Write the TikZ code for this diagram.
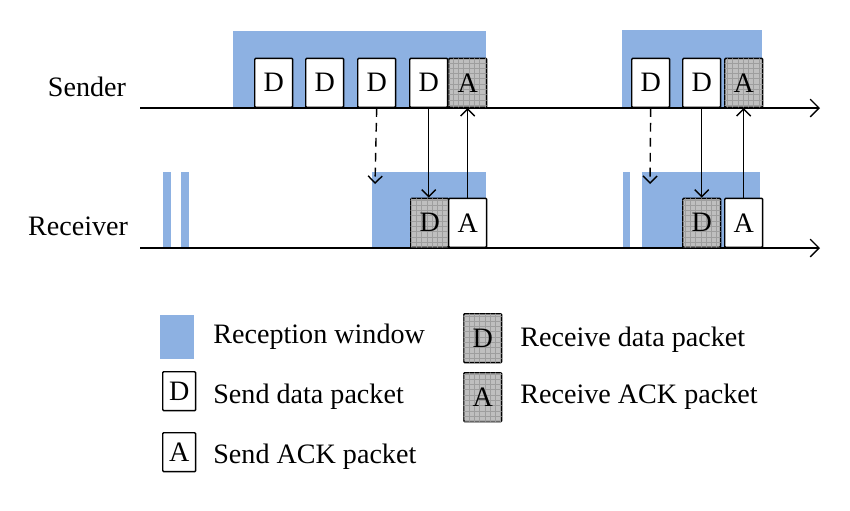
\documentclass[tikz,border=0pt]{standalone}
\usepackage{fontspec}
\setmainfont{Liberation Serif}
\usetikzlibrary{arrows.meta,patterns,positioning}
\definecolor{winblue}{RGB}{141,177,226}

\tikzset{
  pkt/.style={draw, thick, fill=white, minimum width=0.76cm, minimum height=0.98cm, inner sep=0pt, anchor=south west, rounded corners=0.6pt},
  rpkt/.style={pkt, fill=black!25, postaction={pattern=grid, pattern color=black!38}},
  lpkt/.style={pkt, minimum width=0.66cm, minimum height=0.78cm, anchor=north west},
  win/.style={fill=winblue, draw=none},
  tl/.style={thick, -{Straight Barb[length=5pt,width=10pt]}},
  msg/.style={thick, -{Straight Barb[length=4pt,width=8pt]}},
  lbl/.style={anchor=west, inner sep=0pt},
}

\begin{document}
\begin{tikzpicture}[x=0.02cm, y=-0.02cm, font=\fontsize{16}{19}\selectfont]
    \useasboundingbox (0,0) rectangle (850,511);

    % Reception windows
    \fill[win] (233,31) rectangle (486,108);
    \fill[win] (622,30) rectangle (762,108);
    \fill[win] (163,172) rectangle (171,248);
    \fill[win] (181,172) rectangle (189,248);
    \fill[win] (372,172) rectangle (486,248);
    \fill[win] (623,172) rectangle (630,248);
    \fill[win] (642,172) rectangle (760,248);

    % Timelines
    \node (sender) at (87,87) {Sender};
    \node (receiver) at (78,226) {Receiver};
    \coordinate (s0) at (140,108);
    \coordinate (s1) at (820,108);
    \coordinate (r0) at (140,248);
    \coordinate (r1) at (820,248);
    \draw[tl] (s0) -- (s1);
    \draw[tl] (r0) -- (r1);

    % Sender packets
    \node[pkt] (sd1) at (254,108) {D};
    \node[pkt] (sd2) at (305,108) {D};
    \node[pkt] (sd3) at (357,108) {D};
    \node[pkt] (sd4) at (409,108) {D};
    \node[rpkt] (sa1) at (448,108) {A};
    \node[pkt] (sd5) at (631,108) {D};
    \node[pkt] (sd6) at (682,108) {D};
    \node[rpkt] (sa2) at (724,108) {A};

    % Receiver packets
    \node[rpkt] (rd1) at (410,248) {D};
    \node[pkt] (ra1) at (448,248) {A};
    \node[rpkt] (rd2) at (682,248) {D};
    \node[pkt] (ra2) at (724,248) {A};

    % Messages
    \coordinate (lost1) at (375,184);
    \coordinate (lost2) at (650,184);
    \draw[msg, dash pattern=on 5pt off 3.5pt] (sd3.south) -- (lost1);
    \draw[msg, dash pattern=on 5pt off 3.5pt] (sd5.south) -- (lost2);
    \draw[msg] (sd4.south) -- (sd4.south |- rd1.north);
    \draw[msg] (ra1.north) -- (ra1.north |- sa1.south);
    \draw[msg] (sd6.south) -- (rd2.north);
    \draw[msg] (ra2.north) -- (sa2.south);

    % Legend
    \fill[win] (160,315) rectangle (194,359);
    \node[lpkt] (lsd) at (162,371) {D};
    \node[lpkt] (lsa) at (162,432) {A};
    \node[rpkt, anchor=north west] (lrd) at (463,313) {D};
    \node[rpkt, anchor=north west] (lra) at (463,372) {A};
    \node[lbl] (twin) at (213,337) {Reception window};
    \node[lbl] (tsd) at (213,397) {Send data packet};
    \node[lbl] (tsa) at (213,457) {Send ACK packet};
    \node[lbl] (trd) at (520,340) {Receive data packet};
    \node[lbl] (tra) at (520,397) {Receive ACK packet};
\end{tikzpicture}
\end{document}
